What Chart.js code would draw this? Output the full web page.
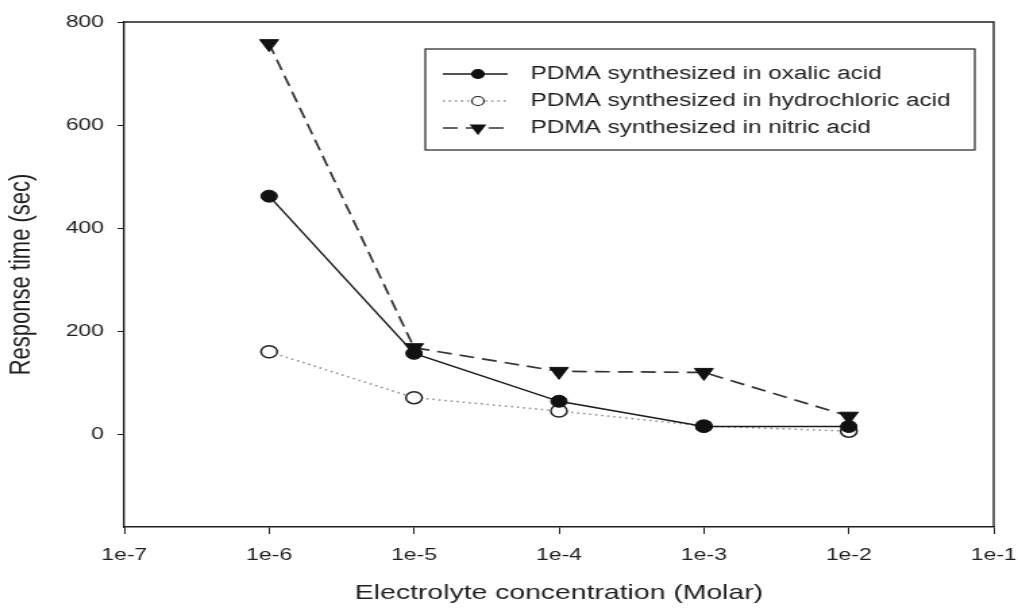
<html>
<head>
<script src="https://cdn.jsdelivr.net/npm/chart.js@4.4.1/dist/chart.umd.min.js"></script>
<style>
  body { margin: 0; background: #fff; }
  /* the reference is stretched sideways, so draw narrow and let css widen it */
  #chart { width: 1018px !important; height: 610px !important; display: block; }
</style>
</head>
<body>
<canvas id="chart" width="754" height="610"></canvas>

<script>
  // data
  var concentration = [1e-6, 1e-5, 1e-4, 1e-3, 1e-2];
  var oxalicAcid = [462, 157, 64, 15, 15];
  var hydrochloricAcid = [160, 71, 45, 16, 6];
  var nitricAcid = [758, 168, 122, 120, 35];

  var seriesNames = [
    "PDMA synthesized in oxalic acid",
    "PDMA synthesized in hydrochloric acid",
    "PDMA synthesized in nitric acid"
  ];

  var xTicks = [1e-7, 1e-6, 1e-5, 1e-4, 1e-3, 1e-2, 1e-1];
  var xTickLabels = ["1e-7", "1e-6", "1e-5", "1e-4", "1e-3", "1e-2", "1e-1"];
  var yTicks = [0, 200, 400, 600, 800];

  var fontName = '"Liberation Sans", Arial, sans-serif';
  var ink = "#1e1e1e";

  function toPoints(values) {
    return concentration.map(function (c, i) { return { x: c, y: values[i] }; });
  }

  // box around the plot (top and right sides) and the legend inside it
  var frameAndLegend = {
    id: "frameAndLegend",
    afterDatasetsDraw: function (chart) {
      var ctx = chart.ctx;
      var a = chart.chartArea;
      ctx.save();
      ctx.strokeStyle = ink;
      ctx.lineWidth = 1.4;
      ctx.beginPath();
      ctx.moveTo(a.left, a.top);
      ctx.lineTo(a.right, a.top);
      ctx.lineTo(a.right, a.bottom);
      ctx.stroke();

      var box = { x: 315, y: 49, w: 407, h: 101 };
      ctx.fillStyle = "#fff";
      ctx.fillRect(box.x, box.y, box.w, box.h);
      ctx.lineWidth = 1.2;
      ctx.strokeRect(box.x, box.y, box.w, box.h);

      var rows = [74, 101, 128];
      chart.data.datasets.forEach(function (ds, i) {
        var y = rows[i];
        ctx.save();
        ctx.strokeStyle = ds.borderColor;
        ctx.lineWidth = ds.borderWidth;
        ctx.setLineDash(ds.borderDash || []);
        ctx.beginPath();
        ctx.moveTo(328, y);
        ctx.lineTo(376, y);
        ctx.stroke();
        ctx.restore();

        ctx.save();
        ctx.fillStyle = ds.pointBackgroundColor;
        ctx.strokeStyle = ds.pointBorderColor;
        Chart.helpers.drawPoint(ctx, {
          pointStyle: ds.pointStyle,
          radius: ds.pointStyle == "triangle" ? 6 : 4.5,
          rotation: ds.pointRotation || 0,
          borderWidth: ds.pointBorderWidth
        }, 354, y);
        ctx.restore();

        ctx.fillStyle = ink;
        ctx.font = "18px " + fontName;
        ctx.textBaseline = "middle";
        ctx.textAlign = "left";
        ctx.fillText(seriesNames[i], 393, y);
      });
      ctx.restore();
    }
  };

  var responseChart = new Chart(document.getElementById("chart"), {
    type: "line",
    data: {
      datasets: [
        {
          label: seriesNames[0],
          data: toPoints(oxalicAcid),
          borderColor: "#1a1a1a",
          borderWidth: 1.4,
          pointStyle: "circle",
          pointRadius: 6,
          pointBackgroundColor: "#111",
          pointBorderColor: "#111",
          pointBorderWidth: 1
        },
        {
          label: seriesNames[1],
          data: toPoints(hydrochloricAcid),
          borderColor: "#8a8a8a",
          borderWidth: 1.5,
          borderDash: [1.5, 3],
          pointStyle: "circle",
          pointRadius: 6,
          pointBackgroundColor: "#fff",
          pointBorderColor: "#222",
          pointBorderWidth: 1.5
        },
        {
          label: seriesNames[2],
          data: toPoints(nitricAcid),
          borderColor: "#333",
          borderWidth: 1.7,
          borderDash: [11, 6],
          pointStyle: "triangle",
          pointRotation: 180,
          pointRadius: 8,
          pointBackgroundColor: "#111",
          pointBorderColor: "#111",
          pointBorderWidth: 1
        }
      ]
    },
    options: {
      responsive: false,
      devicePixelRatio: 1,
      animation: false,
      layout: { padding: { top: 22, right: 18, left: 0, bottom: 0 } },
      plugins: {
        legend: { display: false },
        tooltip: { enabled: false }
      },
      elements: { line: { tension: 0, fill: false } },
      scales: {
        x: {
          type: "logarithmic",
          min: 1e-7,
          max: 1e-1,
          afterBuildTicks: function (scale) {
            scale.ticks = xTicks.map(function (v) { return { value: v }; });
          },
          afterFit: function (scale) {
            scale.height = 83;
            scale.paddingLeft = 0;
            scale.paddingRight = 0;
          },
          ticks: {
            autoSkip: false,
            maxRotation: 0,
            padding: 11,
            color: ink,
            font: { family: fontName, size: 17 },
            callback: function (v, i) { return xTickLabels[i]; }
          },
          grid: { display: true, drawOnChartArea: false, drawTicks: true, tickLength: 7, color: ink, lineWidth: 1 },
          border: { display: true, color: ink, width: 1.4 },
          title: {
            display: true,
            text: "Electrolyte concentration (Molar)",
            color: ink,
            font: { family: fontName, size: 21 },
            padding: { top: 0, bottom: 4 }
          }
        },
        y: {
          min: -180,
          max: 800,
          afterBuildTicks: function (scale) {
            scale.ticks = yTicks.map(function (v) { return { value: v }; });
          },
          afterFit: function (scale) { scale.width = 92; },
          ticks: {
            padding: 10,
            color: ink,
            font: { family: fontName, size: 17 }
          },
          grid: { display: true, drawOnChartArea: false, drawTicks: true, tickLength: 5, color: ink, lineWidth: 1 },
          border: { display: true, color: ink, width: 1.4 },
          title: {
            display: true,
            text: "Response time (sec)",
            color: ink,
            font: { family: fontName, size: 22 },
            padding: { top: 3, bottom: 0 }
          }
        }
      }
    },
    plugins: [frameAndLegend]
  });
</script>
</body>
</html>
